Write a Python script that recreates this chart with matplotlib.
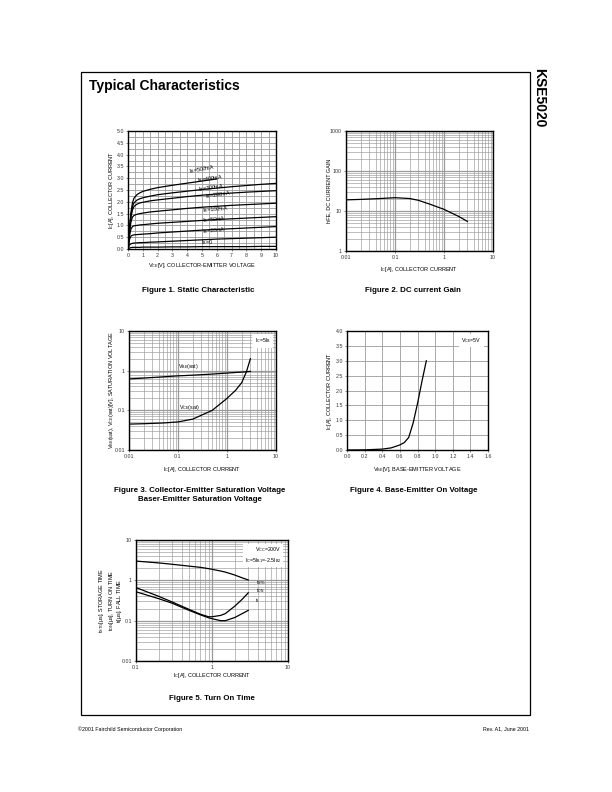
import numpy as np
import matplotlib
matplotlib.use("Agg")
import matplotlib.pyplot as plt
from matplotlib.ticker import NullFormatter, LogLocator, MultipleLocator

plt.rcParams['font.family'] = ['Liberation Sans', 'DejaVu Sans']
plt.rcParams['mathtext.fontset'] = 'custom'
plt.rcParams['mathtext.rm'] = 'Liberation Sans'
plt.rcParams['mathtext.it'] = 'Liberation Sans'
plt.rcParams['mathtext.default'] = 'regular'

# ---------------- data ----------------
# Figure 1: static characteristic
vce = [0, 0.1, 0.2, 0.3, 0.4, 0.6, 0.8, 1, 1.5, 2, 3, 4, 5, 6, 7, 8, 9, 10]
ic_ib500 = [0, 0.9, 1.55, 1.95, 2.15, 2.3, 2.38, 2.44, 2.53, 2.6, 2.7, 2.79, 2.88, 2.97]
ic_ib400 = [0, 0.85, 1.45, 1.8, 1.95, 2.07, 2.13, 2.17, 2.24, 2.3, 2.38, 2.45, 2.52, 2.58, 2.64, 2.69, 2.74, 2.78]
ic_ib300 = [0, 0.8, 1.35, 1.65, 1.8, 1.9, 1.95, 1.98, 2.04, 2.08, 2.15, 2.22, 2.28, 2.33, 2.37, 2.41, 2.44, 2.47]
ic_ib200 = [0, 0.7, 1.15, 1.35, 1.42, 1.47, 1.5, 1.52, 1.57, 1.6, 1.66, 1.72, 1.77, 1.81, 1.85, 1.88, 1.91, 1.94]
ic_ib100 = [0, 0.55, 0.85, 0.95, 0.98, 1.0, 1.02, 1.03, 1.06, 1.09, 1.13, 1.17, 1.21, 1.25, 1.28, 1.31, 1.34, 1.37]
ic_ib50 = [0, 0.4, 0.55, 0.58, 0.6, 0.61, 0.62, 0.63, 0.65, 0.68, 0.72, 0.76, 0.8, 0.83, 0.86, 0.89, 0.92, 0.95]
ic_ib20 = [0, 0.17, 0.22, 0.24, 0.25, 0.26, 0.27, 0.27, 0.29, 0.3, 0.33, 0.36, 0.39, 0.42, 0.44, 0.46, 0.48, 0.5]
ic_ib0 = [0, 0.04, 0.06, 0.07, 0.07, 0.07, 0.07, 0.08, 0.08, 0.08, 0.09, 0.09, 0.1, 0.1, 0.1, 0.1, 0.11, 0.11]
fig1_labels = ['I$_B$=500mA', 'I$_B$=400mA', 'I$_B$=300mA', 'I$_B$=200mA',
               'I$_B$=100mA', 'I$_B$=50mA', 'I$_B$=20mA', 'I$_B$=0']
fig1_label_x = [4.2, 4.7, 4.8, 5.3, 5.1, 5.1, 5.1, 4.9]
fig1_label_y = [3.1, 2.71, 2.33, 2.03, 1.44, 1.02, 0.55, 0.1]
fig1_label_rot = [10, 8, 8, 8, 5, 5, 5, 0]
fig1_yticks = [0.0, 0.5, 1.0, 1.5, 2.0, 2.5, 3.0, 3.5, 4.0, 4.5, 5.0]
fig1_xticks = [0, 1, 2, 3, 4, 5, 6, 7, 8, 9, 10]

# Figure 2: DC current gain
ic2 = [0.01, 0.02, 0.05, 0.1, 0.2, 0.3, 0.5, 1, 2, 3]
hfe = [19, 19.5, 20.5, 21.5, 20.5, 18.5, 15, 11, 7.3, 5.5]

# Figure 3: saturation voltages
ic3 = [0.01, 0.02, 0.05, 0.1, 0.2, 0.5, 1, 1.5, 2, 2.5, 3]
vbe_sat = [0.62, 0.65, 0.7, 0.74, 0.77, 0.82, 0.87, 0.9, 0.92, 0.94, 0.96]
vce_sat = [0.045, 0.046, 0.048, 0.051, 0.06, 0.1, 0.2, 0.32, 0.5, 0.95, 2.0]

# Figure 4: base-emitter on voltage
vbe4 = [0.0, 0.2, 0.4, 0.5, 0.6, 0.65, 0.7, 0.75, 0.8, 0.85, 0.9]
ic4 = [0.0, 0.005, 0.03, 0.07, 0.17, 0.25, 0.42, 0.9, 1.56, 2.3, 3.0]
fig4_xticks = [0.0, 0.2, 0.4, 0.6, 0.8, 1.0, 1.2, 1.4, 1.6]
fig4_yticks = [0.0, 0.5, 1.0, 1.5, 2.0, 2.5, 3.0, 3.5, 4.0]

# Figure 5: switching times
ic5 = [0.1, 0.2, 0.3, 0.5, 0.7, 0.9, 1, 1.3, 1.5, 2, 2.5, 3]
t_stg = [3.0, 2.7, 2.5, 2.25, 2.1, 1.95, 1.88, 1.7, 1.6, 1.35, 1.15, 1.02]
t_on = [0.66, 0.4, 0.29, 0.19, 0.145, 0.125, 0.125, 0.135, 0.15, 0.23, 0.34, 0.49]
t_f = [0.52, 0.35, 0.27, 0.18, 0.14, 0.118, 0.112, 0.1, 0.1, 0.12, 0.15, 0.18]

# ---------------- layout helpers ----------------
W, H = 612, 792
fig = plt.figure(figsize=(W / 100, H / 100), dpi=100)
fig.patch.set_facecolor('white')

GRID = '#9a9a9a'
TICK_FS = 3.8
LAB_FS = 4.0
CAP_FS = 5.7


def px_axes(x0, y0, x1, y1):
    return fig.add_axes([x0 / W, 1 - y1 / H, (x1 - x0) / W, (y1 - y0) / H])


def style(ax, xoff, yoff, h, w):
    for s in ax.spines.values():
        s.set_linewidth(1.0)
        s.set_color('black')
        s.set_zorder(5)
    ax.tick_params(which='both', labelsize=TICK_FS, length=1.5, width=0.4,
                   direction='out', pad=1.5, colors='#333333')
    ax.tick_params(which='minor', length=0)
    ax.set_axisbelow(True)
    ax.xaxis.set_label_coords(0.5, -xoff / h)
    ax.yaxis.set_label_coords(-yoff / w, 0.5)
    ax.xaxis.label.set_va('center')
    ax.yaxis.label.set_va('center')


def log_grid(ax):
    ax.grid(True, which='major', color=GRID, linewidth=0.9)
    ax.grid(True, which='minor', color=GRID, linewidth=0.45)
    ax.xaxis.set_minor_formatter(NullFormatter())
    ax.yaxis.set_minor_formatter(NullFormatter())
    ax.xaxis.set_minor_locator(LogLocator(base=10, subs=np.arange(2, 10)))
    ax.yaxis.set_minor_locator(LogLocator(base=10, subs=np.arange(2, 10)))


# ---------------- page decorations ----------------
frame = plt.Rectangle((81 / W, 1 - 715 / H), (530 - 81) / W, (715 - 72) / H,
                      transform=fig.transFigure, fill=False, lw=0.9, ec='black')
fig.add_artist(frame)
fig.text(89 / W, 1 - 86 / H, 'Typical Characteristics', fontsize=10, fontweight='bold',
         ha='left', va='center')
fig.text(539 / W, 1 - 68 / H, 'KSE5020', fontsize=10, fontweight='bold',
         rotation=-90, ha='center', va='top')
fig.text(78 / W, 1 - 729 / H, '\u00a92001 Fairchild Semiconductor Corporation',
         fontsize=3.8, ha='left', va='center')
fig.text(529 / W, 1 - 729 / H, 'Rev. A1, June 2001', fontsize=3.8, ha='right', va='center')

# ---------------- Figure 1 ----------------
ax1 = px_axes(128, 131, 276, 249)
curves1 = [ic_ib500, ic_ib400, ic_ib300, ic_ib200, ic_ib100, ic_ib50, ic_ib20, ic_ib0]
for c in curves1:
    ax1.plot(vce[:len(c)], c, color='black', lw=0.9)
for lab, lx, ly, rot in zip(fig1_labels, fig1_label_x, fig1_label_y, fig1_label_rot):
    ax1.text(lx, ly, lab, fontsize=3.8, rotation=rot, ha='left', va='bottom',
             rotation_mode='anchor')
ax1.set_xlim(0, 10)
ax1.set_ylim(0, 5)
ax1.set_xticks(fig1_xticks)
ax1.set_xticklabels([str(v) for v in fig1_xticks])
ax1.set_yticks(fig1_yticks)
ax1.set_yticklabels(['%.1f' % v for v in fig1_yticks])
ax1.xaxis.set_minor_locator(MultipleLocator(0.5))
ax1.yaxis.set_minor_locator(MultipleLocator(0.25))
ax1.grid(True, which='both', color=GRID, linewidth=0.6)
ax1.set_xlabel('V$_{CE}$[V], COLLECTOR-EMITTER VOLTAGE', fontsize=LAB_FS)
ax1.set_ylabel('I$_C$[A], COLLECTOR CURRENT', fontsize=LAB_FS)
style(ax1, 17, 16, 118, 148)
fig.text(198 / W, 1 - 291 / H, 'Figure 1. Static Characteristic', fontsize=CAP_FS,
         fontweight='bold', ha='center', va='center')

# ---------------- Figure 2 ----------------
ax2 = px_axes(346, 131, 493, 251)
ax2.set_xscale('log')
ax2.set_yscale('log')
ax2.plot(ic2, hfe, color='black', lw=0.9)
ax2.set_xlim(0.01, 10)
ax2.set_ylim(1, 1000)
log_grid(ax2)
ax2.set_xticks([0.01, 0.1, 1, 10])
ax2.set_xticklabels(['0.01', '0.1', '1', '10'])
ax2.set_yticks([1, 10, 100, 1000])
ax2.set_yticklabels(['1', '10', '100', '1000'])
ax2.set_xlabel('I$_C$[A], COLLECTOR CURRENT', fontsize=LAB_FS)
ax2.set_ylabel('hFE, DC CURRENT GAIN', fontsize=LAB_FS)
style(ax2, 18, 17, 120, 147)
fig.text(413 / W, 1 - 291 / H, 'Figure 2. DC current Gain', fontsize=CAP_FS,
         fontweight='bold', ha='center', va='center')

# ---------------- Figure 3 ----------------
ax3 = px_axes(129, 331, 276, 450)
ax3.set_xscale('log')
ax3.set_yscale('log')
ax3.plot(ic3, vbe_sat, color='black', lw=0.9)
ax3.plot(ic3, vce_sat, color='black', lw=0.9)
ax3.set_xlim(0.01, 10)
ax3.set_ylim(0.01, 10)
log_grid(ax3)
ax3.set_xticks([0.01, 0.1, 1, 10])
ax3.set_xticklabels(['0.01', '0.1', '1', '10'])
ax3.set_yticks([0.01, 0.1, 1, 10])
ax3.set_yticklabels(['0.01', '0.1', '1', '10'])
ax3.text(0.1, 1.0, 'V$_{BE}$(sat)', fontsize=3.8, ha='left', va='bottom')
ax3.text(0.105, 0.093, 'V$_{CE}$(sat)', fontsize=3.8, ha='left', va='bottom')
ax3.text(0.965, 0.955, 'I$_C$=5I$_B$', fontsize=3.8, ha='right', va='top',
         transform=ax3.transAxes,
         bbox=dict(boxstyle='square,pad=0.5', fc='white', ec='none'))
ax3.set_xlabel('I$_C$[A], COLLECTOR CURRENT', fontsize=LAB_FS)
ax3.set_ylabel('V$_{BE}$(sat), V$_{CE}$(sat)[V], SATURATION VOLTAGE', fontsize=LAB_FS)
style(ax3, 19, 18, 119, 147)
fig.text(200 / W, 1 - 490 / H, 'Figure 3. Collector-Emitter Saturation Voltage',
         fontsize=CAP_FS, fontweight='bold', ha='center', va='center')
fig.text(200 / W, 1 - 500 / H, 'Baser-Emitter Saturation Voltage',
         fontsize=CAP_FS, fontweight='bold', ha='center', va='center')

# ---------------- Figure 4 ----------------
ax4 = px_axes(347, 331, 488, 450)
ax4.plot(vbe4, ic4, color='black', lw=0.9)
ax4.set_xlim(0, 1.6)
ax4.set_ylim(0, 4.0)
ax4.set_xticks(fig4_xticks)
ax4.set_xticklabels(['%.1f' % v for v in fig4_xticks])
ax4.set_yticks(fig4_yticks)
ax4.set_yticklabels(['%.1f' % v for v in fig4_yticks])
ax4.grid(True, which='major', color=GRID, linewidth=0.6)
ax4.text(0.955, 0.955, 'V$_{CE}$=5V', fontsize=3.8, ha='right', va='top',
         transform=ax4.transAxes,
         bbox=dict(boxstyle='square,pad=0.4', fc='white', ec='none'))
ax4.set_xlabel('V$_{BE}$[V], BASE-EMITTER VOLTAGE', fontsize=LAB_FS)
ax4.set_ylabel('I$_C$[A], COLLECTOR CURRENT', fontsize=LAB_FS)
style(ax4, 19, 18, 119, 141)
fig.text(414 / W, 1 - 490 / H, 'Figure 4. Base-Emitter On Voltage',
         fontsize=CAP_FS, fontweight='bold', ha='center', va='center')

# ---------------- Figure 5 ----------------
ax5 = px_axes(136, 540, 288, 661)
ax5.set_xscale('log')
ax5.set_yscale('log')
ax5.plot(ic5, t_stg, color='black', lw=0.9)
ax5.plot(ic5, t_on, color='black', lw=0.9)
ax5.plot(ic5, t_f, color='black', lw=0.9)
ax5.set_xlim(0.1, 10)
ax5.set_ylim(0.01, 10)
log_grid(ax5)
ax5.set_xticks([0.1, 1, 10])
ax5.set_xticklabels(['0.1', '1', '10'])
ax5.set_yticks([0.01, 0.1, 1, 10])
ax5.set_yticklabels(['0.01', '0.1', '1', '10'])
ax5.text(3.8, 0.88, 't$_{STG}$', fontsize=3.5, ha='left', va='center')
ax5.text(3.8, 0.57, 't$_{ON}$', fontsize=3.5, ha='left', va='center')
ax5.text(3.7, 0.32, 't$_f$', fontsize=3.5, ha='left', va='center')
ax5.text(0.955, 0.955, 'V$_{CC}$=200V\nI$_C$=5I$_{B1}$=-2.5I$_{B2}$', fontsize=3.8,
         ha='right', va='top', transform=ax5.transAxes, linespacing=1.3,
         bbox=dict(boxstyle='square,pad=0.3', fc='white', ec='none'))
ax5.set_xlabel('I$_C$[A], COLLECTOR CURRENT', fontsize=LAB_FS)
ax5.set_ylabel('t$_{STG}$[\u03bcs], STORAGE TIME\nt$_{ON}$[\u03bcs], TURN ON TIME\n'
               't$_f$[\u03bcs], FALL TIME', fontsize=LAB_FS, linespacing=1.0)
style(ax5, 15, 25, 121, 152)
fig.text(212 / W, 1 - 699 / H, 'Figure 5. Turn On Time',
         fontsize=CAP_FS, fontweight='bold', ha='center', va='center')

fig.savefig('out.png', dpi=100, facecolor='white')
